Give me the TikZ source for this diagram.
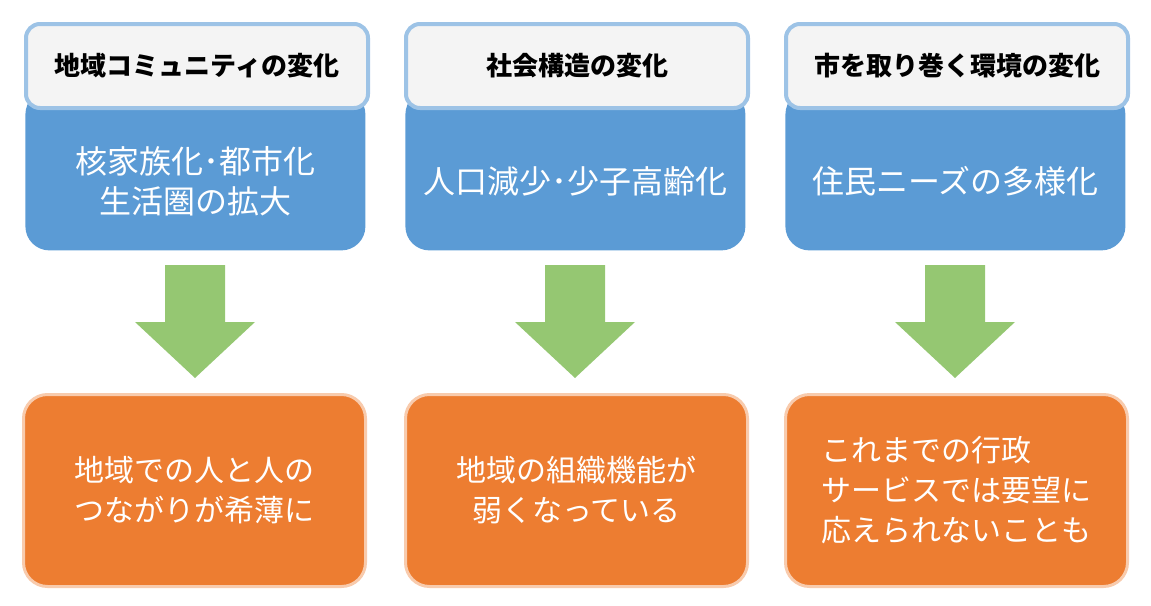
\documentclass[tikz,border=0pt]{standalone}
\usepackage{fontspec}
\setmainfont{Noto Sans CJK JP}
\usetikzlibrary{positioning}
\definecolor{headfill}{RGB}{244,244,244}
\definecolor{boxblue}{RGB}{91,155,213}
\definecolor{boxorange}{RGB}{237,125,49}
\definecolor{arrowgreen}{RGB}{149,199,114}
\tikzset{
  head/.style={draw=boxblue!60, line width=2pt, fill=headfill, rounded corners=7pt,
    minimum width=171pt, minimum height=42pt, font=\bfseries\fontsize{13}{15}\selectfont},
  cause/.style={fill=boxblue, rounded corners=12pt, minimum width=170pt, minimum height=80pt,
    text=white, align=center, font=\fontsize{16}{20}\selectfont},
  result/.style={fill=boxorange, draw=boxorange!40, line width=1.5pt, rounded corners=12pt,
    minimum width=171pt, minimum height=96pt, text=white, align=center,
    font=\fontsize{15}{20}\selectfont}
}
\begin{document}
\begin{tikzpicture}[x=0.5pt,y=-0.5pt]
    \useasboundingbox (0,0) rectangle (1151,605);

    % blue boxes
    \node[cause, anchor=north west] (c1) at (25,90) {\\[4pt]核家族化･都市化\\生活圏の拡大};
    \node[cause, anchor=north west] (c2) at (405,90) {\\[4pt]人口減少･少子高齢化};
    \node[cause, anchor=north west] (c3) at (785,90) {\\[4pt]住民ニーズの多様化};

    % headers
    \node[head, anchor=north west] (h1) at (24,22) {地域コミュニティの変化};
    \node[head, anchor=north west] (h2) at (404,22) {社会構造の変化};
    \node[head, anchor=north west] (h3) at (784,22) {市を取り巻く環境の変化};

    % orange boxes
    \node[result, anchor=north west] (r1) at (22,393) {地域での人と人の\\つながりが希薄に};
    \node[result, anchor=north west] (r2) at (404,393) {地域の組織機能が\\弱くなっている};
    \node[result, anchor=north west, align=left] (r3) at (784,393) {これまでの行政\\サービスでは要望に\\応えられないことも};

    % green arrows
    \foreach \x in {195,575,955}
      \fill[arrowgreen] (\x-30,265) -- (\x+30,265) -- (\x+30,322) -- (\x+60,322)
        -- (\x,378) -- (\x-60,322) -- (\x-30,322) -- cycle;
  \end{tikzpicture}
\end{document}
